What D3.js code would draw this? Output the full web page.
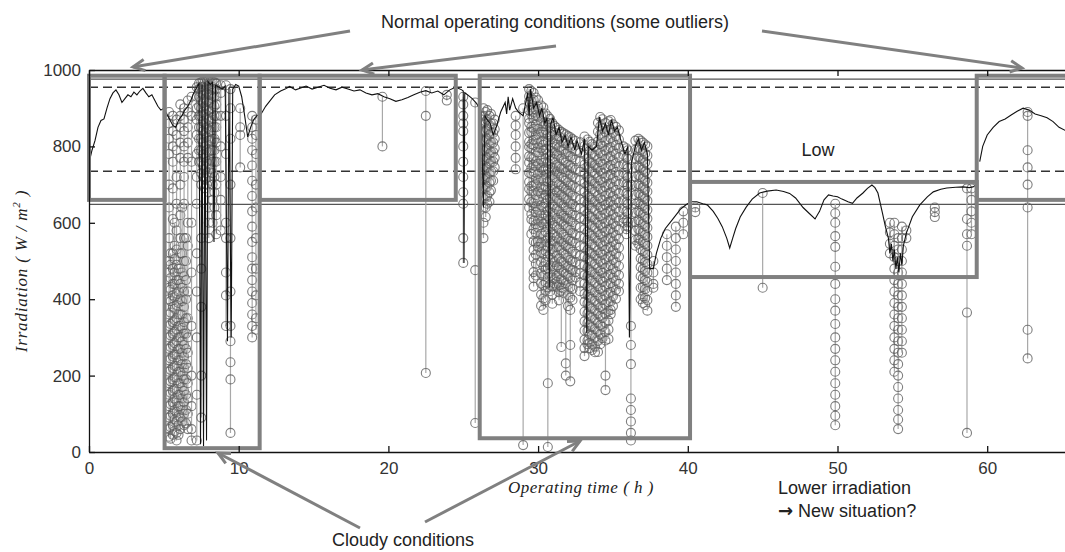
<!DOCTYPE html>
<html>
<head>
<meta charset="utf-8">
<script src="https://cdn.jsdelivr.net/npm/d3@7"></script>
<style>
  body { margin: 0; background: #fff; }
  svg { display: block; }
  .tick text { font-family: "Liberation Sans", Arial, sans-serif; font-size: 17px; fill: #333; }
  .ann { font-family: "Liberation Sans", Arial, sans-serif; font-size: 18px; fill: #222; }
  .axlab { font-family: "Liberation Serif", "Times New Roman", serif; font-style: italic; font-size: 17px; fill: #222; }
</style>
</head>
<body>
<div id="chart"></div>
<script>
// ---- data (hours, W/m2) ----
var xTicks = [0, 10, 20, 30, 40, 50, 60];
var yTicks = [0, 200, 400, 600, 800, 1000];

// measured irradiation trace [hour, value]
var trace = [
  [0.05,765],[0.2,790],[0.4,815],[0.6,850],[0.8,868],[1.0,872],[1.2,900],[1.4,925],[1.6,940],[1.8,948],
  [2.0,935],[2.2,915],[2.4,925],[2.6,935],[2.8,930],[3.0,942],[3.2,935],[3.4,945],[3.6,952],[3.8,940],
  [4.0,930],[4.2,935],[4.4,920],[4.6,905],[4.8,895],[5.0,900],
  [5.2,885],[5.4,870],[5.6,855],[5.8,850],[6.0,870],[6.2,880],[6.4,895],[6.6,905],[6.8,920],[7.0,940],
  [7.2,955],[7.35,965],[7.45,20],[7.55,962],[7.65,15],[7.75,968],[7.85,30],[7.95,970],[8.1,962],[8.25,968],
  [8.35,550],[8.45,960],[8.7,955],[8.9,950],[9.1,958],[9.25,290],[9.35,955],[9.5,300],[9.6,950],[9.8,962],
  [10.0,958],[10.2,930],[10.4,880],[10.6,825],[10.8,850],[11.0,870],[11.2,880],[11.5,885],
  [11.8,905],[12.1,920],[12.4,935],[12.8,945],[13.1,950],[13.4,957],[13.8,948],[14.1,952],[14.5,958],[14.9,950],
  [15.3,955],[15.7,960],[16.1,952],[16.5,948],[16.9,955],[17.3,950],[17.7,945],[18.1,948],[18.5,940],[18.9,935],
  [19.3,938],[19.7,930],[20.1,925],[20.5,918],[20.9,922],[21.3,928],[21.7,935],[22.1,942],[22.5,946],[22.9,940],
  [23.3,945],[23.7,935],[24.1,948],[24.5,955],[24.9,948],[25.0,945],[25.05,495],[25.1,940],[25.3,935],[25.6,925],
  [25.9,912],[26.0,905],[26.2,890],[26.35,640],[26.45,880],[26.6,870],[26.8,860],[27.0,830],[27.2,850],[27.5,890],
  [27.8,915],[27.9,885],[28.0,930],[28.1,895],[28.3,925],[28.5,900],[28.7,890],[29.0,880],[29.3,940],[29.4,880],
  [29.5,950],[29.7,900],[29.9,915],[30.1,880],[30.25,900],[30.45,860],[30.6,875],[30.75,430],[30.85,860],[31.0,875],
  [31.2,830],[31.4,850],[31.6,810],[31.8,830],[32.0,800],[32.2,825],[32.45,790],[32.6,815],[32.9,780],[33.1,820],
  [33.25,311],[33.35,800],[33.6,790],[33.9,800],[34.1,877],[34.3,840],[34.5,860],[34.7,830],[34.9,870],[35.1,840],
  [35.3,850],[35.5,820],[35.8,780],[36.0,800],[36.1,300],[36.25,760],[36.5,800],[36.7,820],[36.9,790],[37.1,810],
  [37.3,780],[37.45,480],[37.7,480],[37.9,520],[38.2,560],[38.5,585],[38.8,600],[39.1,615],[39.5,635],[39.9,648],
  [40.2,655],[40.6,655],[41.0,650],[41.3,647],[41.7,630],[42.0,612],[42.3,590],[42.6,560],[42.8,534],[43.0,560],
  [43.2,585],[43.5,615],[43.9,641],[44.3,662],[44.8,678],[45.3,683],[45.9,686],[46.4,682],[46.8,677],[47.2,665],
  [47.7,640],[48.1,625],[48.5,610],[48.8,630],[49.1,660],[49.4,673],[49.7,670],[50.0,668],[50.3,662],[50.7,655],
  [51.0,651],[51.3,665],[51.7,678],[52.0,690],[52.3,699],[52.5,692],[52.7,678],[53.0,626],[53.2,590],[53.4,560],
  [53.5,520],[53.6,545],[53.7,500],[53.8,530],[53.9,480],[54.0,510],[54.1,470],[54.2,520],[54.3,490],[54.4,540],
  [54.6,573],[55.0,616],[55.5,647],[56.0,668],[56.4,681],[56.9,688],[57.3,691],[57.9,693],[58.4,694],[58.8,692],
  [59.05,694],[59.3,700],
  [59.5,760],[59.7,800],[60.0,830],[60.4,850],[60.8,865],[61.2,872],[61.6,882],[62.0,892],[62.4,900],[62.8,895],
  [63.2,885],[63.6,880],[64.0,875],[64.4,865],[64.8,850],[65.2,842],[65.6,838]
];

// outlier samples (grey circles), grouped by hour
var outliers = [
  [5.35, [890,860,820,780,700,640,560,500,470,430,400,360,330,300,270,240,210,180,150,120,90,60,40]],
  [5.45, [520,490,455,425,395,365,335,305,275,245,215,185,155,125,95,65,35]],
  [5.6,  [880,840,800,760,690,610,520,480,440,410,380,340,310,280,250,220,190,160,130,100,70,45]],
  [5.72, [600,540,505,470,440,405,375,345,315,285,255,225,195,165,140,110,85,55]],
  [5.85, [870,830,790,720,650,580,530,490,450,415,385,350,320,290,255,225,195,165,135,105,80,50,30]],
  [5.98, [480,450,420,390,360,330,300,270,240,210,180,150,120,95,70,45]],
  [6.1,  [910,880,850,810,770,700,620,560,520,480,440,400,360,330,300,270,240,210,180,150,120,90,60]],
  [6.22, [640,520,470,430,395,360,325,290,260,230,200,170,140,110,80]],
  [6.35, [900,870,840,800,760,720,650,560,500,460,420,380,340,310,280,250,220,190,160,130,100,70]],
  [6.48, [560,500,450,400,350,310,270,230,190,150,110,75]],
  [6.6,  [920,890,850,810,770,600,540,420,350,300,260,220,180,140,100,60]],
  [6.85, [930,880,760,600,470,330,200,120,60,30]],
  [7.2,  [955,930,900,870,830,780,720,650,520,420,300,150,30]],
  [7.35, [965,950,930,905,880,850,820,790,760]],
  [7.5,  [968,955,940,920,900,880,850,820,790,760,730,700,560,480,380,200,90]],
  [7.62, [970,955,935,915,890,865,840,810,780,750,720]],
  [7.75, [970,960,945,925,905,885,860,835,800,770,740,715,690]],
  [7.88, [972,958,940,920,900,875,850,825,790,760,730,700]],
  [8.0,  [972,960,950,935,915,895,870,845,815,785,755,720,680,640,600,560]],
  [8.12, [970,952,935,915,890,865,840,815,790,765,740,710]],
  [8.25, [970,955,940,925,900,875,850,820,790,760,730,700,660,600]],
  [8.38, [968,950,930,905,880,850,820,790,760,720,680,640]],
  [8.5,  [965,950,930,910,880,850,810,760,700,620,570]],
  [8.8,  [960,940,880,800,720,660,580]],
  [9.15, [960,880,780,600,560,470,410,330]],
  [9.45, [950,900,820,700,560,420,330,290,235,190,50]],
  [10.1, [900,850,830,745]],
  [10.9, [880,850,820,790,750,710,670,630,590,550,510,480,450,420,390,360,330,300]],
  [11.15,[870,830,780,700,640,560,480,410,350,320]],
  [19.6, [930,800]],
  [22.5, [945,880,207]],
  [23.9, [935,920]],
  [25.0, [930,910,880,860,840,800,760,720,680,650,560,495]],
  [25.8, [915,476,76]],
  [26.35,[900,880,860,840,815,790,765,740,715,690,665,640,600,560]],
  [26.5, [890,865,840,815,790,765,740,715,690,665,640,615]],
  [26.6, [895,870,845,820,795,770,745,720,695,670,650]],
  [26.75,[880,855,830,805,780,755,730,705,680,655]],
  [26.85,[885,860,835,810,785,760,735,710,685]],
  [27.0, [860,835,810,785,760,735,710]],
  [27.1, [870,845,820,795,770,745]],
  [28.5, [880,855,830,800,770,740]],
  [29.0, [900,18]],
  [29.4, [950,931,917,894,873,861,836,812,799,774,758,731,707,689,662,640]],
  [29.55,[945,918,902,884,851,838,806,795,771,743,728,696,682,654,623,609,571]],
  [29.7, [940,922,889,874,846,817,803,769,752,733,698,684,651,637,605,584,552,529,508,471,455,433]],
  [29.85,[928,897,881,857,829,818,786,761,748,716,701,672,643,628,596,574,548,517,493,462]],
  [30.0, [921,904,878,846,831,797,784,755,728,711,682,661,634,606,588,552,537]],
  [30.2, [907,881,866,838,812,795,763,744,716,693,677,646,619,602,571,548,523,497,468,441,412,383]],
  [30.35,[902,884,853,837,804,789,757,738,711,687,664,641,611,597,566,538,519,486,461,437,402,372]],
  [30.5, [886,859,843,812,793,768,741,726,694,673,651,621,604,577,553,526,497,478,444,422,397]],
  [30.65,[879,862,831,814,781,757,739,708,687,661,632,617,589,561,538,512,481,457,431,180,13]],
  [30.8, [872,848,827,801,776,762,731,712,683,664,637,608,591,562,546,517,489,468,438,421]],
  [30.95,[861,839,811,796,768,743,724,697,676,648,627,599,583,552,531,504,486,457,433,412,388]],
  [31.1, [853,836,808,783,766,737,718,688,671,642,623,594,568,551,523,497,478,452,441]],
  [31.25,[848,821,804,779,752,734,706,681,663,636,612,589,563,537,514,488,461,446,433]],
  [31.4, [843,826,797,776,748,729,701,684,657,631,608,583,557,538,507,483,466,437,418,397]],
  [31.55,[838,814,789,768,742,721,697,673,651,622,603,574,551,528,499,477,452,431,422,275]],
  [31.7, [834,809,792,763,741,717,692,669,646,618,597,569,547,521,496,471,449,428,417]],
  [31.85,[831,807,781,758,733,711,688,662,641,613,592,563,541,516,489,467,442,232,200]],
  [32.0, [827,803,785,752,737,706,684,659,633,611,587,558,536,509,486,461,438,411,382]],
  [32.15,[824,798,774,749,726,698,679,651,627,604,581,553,532,503,479,456,431,404,372,280,185]],
  [32.3, [819,796,771,743,722,697,671,649,621,602,573,551,524,498,476,449,427,398]],
  [32.5, [814,788,766,739,717,691,667,641,619,593,568,547,519,497,471,457]],
  [32.8, [811,783,762,734,712,686,661,638,613,588,564,539,514,491,468,443,421]],
  [33.1, [826,801,778,752,729,704,681,656,631,609,583,561,536,512,489,463,441,414,393,367,342,318,294,272,251]],
  [33.3, [818,794,768,747,719,698,671,652,624,603,577,556,529,507,483,461,434,412,389,363,338,317,292,282]],
  [33.45,[812,789,761,742,714,693,667,646,618,597,572,551,524,502,476,454,428,406,381,357,333,308,286,272]],
  [33.6, [806,781,757,734,709,688,661,639,614,592,566,544,519,498,471,449,423,401,376,352,327,306,281,267]],
  [33.8, [799,776,751,729,703,682,656,633,608,587,561,538,514,492,466,443,418,396,371,347,322,299,276,261]],
  [34.0, [862,839,813,791,766,743,718,696,671,648,623,601,576,553,528,506,481,459,434,411,386,363,338,316,291,262]],
  [34.15,[877,852,831,806,783,759,736,711,689,664,641,617,594,569,547,522,499,474,452,427,404,379,356,332,308,282]],
  [34.3, [871,847,823,801,776,753,729,706,682,659,634,612,587,564,539,517,492,469,446,422,398,376,351,328,298]],
  [34.5, [861,838,814,789,767,742,719,694,671,647,624,599,577,552,529,504,482,457,434,409,387,362,339,314,292,200,162]],
  [34.7, [866,843,818,796,771,748,724,701,676,654,629,606,582,559,534,511,487,464,439,417,392,369,344,321,296]],
  [34.85,[869,844,822,797,774,751,726,703,679,656,632,608,584,561,537,514,489,466,442,419,394,372,361]],
  [35.0, [858,836,811,788,763,741,716,693,669,646,621,598,574,551,527,503,479,456,432,408,382]],
  [35.2, [851,827,803,781,756,733,709,686,661,638,614,591,567,543,519,496,472,449,424,401]],
  [35.4, [842,818,796,771,748,724,701,677,653,629,606,582,558,535,511,487,463,440,421]],
  [35.7, [800,778,753,731,706,684,659,637,612,600]],
  [35.9, [795,771,748,724,701,677,653,630,606,583,570]],
  [36.0, [790,767,743,719,696,672,649,625,601,590]],
  [36.2, [700,600,330,280,230,140,110,80,50,30]],
  [36.5, [815,792,768,744,721,697,673,650,626,602,579,555,540]],
  [36.7, [820,796,773,749,725,701,678,654,631,607,583,559,545]],
  [36.85,[815,791,768,744,720,697,673,649,626,602,578,555,531,507,484,460,430,400]],
  [37.0, [810,787,763,739,716,692,668,645,621,597,574,550,526,503,479,455,432,408,390]],
  [37.15,[805,781,758,734,710,687,663,639,616,592,568,545,521,497,474,450,426,403,385]],
  [37.3, [800,776,753,729,705,682,658,634,611,587,563,540,516,492,469,445,421,398,370]],
  [37.7, [500,470,440,430]],
  [38.6, [570,540,510,480,450]],
  [39.2, [590,560,530,500,470,440,410,380]],
  [39.7, [630,600,570]],
  [40.5, [640,628]],
  [45.0, [678,430]],
  [49.85,[650,625,600,565,537,485,440,400,370,335,300,270,240,210,180,150,120,95,70]],
  [53.5, [600,575,545,520]],
  [53.8, [600,570,540,510,480,450,420,390,360,330,300,270,240,210]],
  [54.05,[560,530,500,470,440,410,380,350,320,290,260,230,200,170,140,110,85,60]],
  [54.3, [590,560,530,500,470,440,410,380,350,320,290,260]],
  [54.6, [580,560]],
  [56.5, [640,628,615]],
  [58.65,[690,610,570,540,365,50]],
  [58.95,[690,660,630,600,570]],
  [62.7, [890,880,790,745,700,640,320,245]]
];

// highlighted regions [t0, t1, vLow, vHigh]
var regions = [
  [0, 5.05, 660, 985],
  [5.05, 11.4, 10, 985],
  [11.4, 24.5, 660, 985],
  [26.1, 40.15, 36, 985],
  [40.15, 59.3, 458, 707],
  [59.3, 67, 660, 985]
];
var dashedLevels = [955, 735];
var thinLevels = [976, 648];

// ---- chart ----
var W = 1065, H = 552;
var svg = d3.select('#chart').append('svg')
    .attr('width', W)
    .attr('height', H)
    .style('background', '#fff');

var x = d3.scaleLinear().domain([0, 66]).range([89, 89 + 66 * 14.97]);
var y = d3.scaleLinear().domain([0, 1000]).range([452, 70]);

// reference levels
svg.selectAll('.dl').data(dashedLevels).enter().append('line')
    .attr('x1', x(0)).attr('x2', W)
    .attr('y1', y).attr('y2', y)
    .attr('stroke', '#333').attr('stroke-width', 1.6)
    .attr('stroke-dasharray', '9,5');
svg.selectAll('.tl').data(thinLevels).enter().append('line')
    .attr('x1', x(0)).attr('x2', W)
    .attr('y1', y).attr('y2', y)
    .attr('stroke', '#555').attr('stroke-width', 1.2);

// outlier columns
var cols = svg.append('g').selectAll('g').data(outliers).enter().append('g');
cols.append('line')
    .attr('x1', function (d) { return x(d[0]); })
    .attr('x2', function (d) { return x(d[0]); })
    .attr('y1', function (d) { return y(d3.max(d[1])); })
    .attr('y2', function (d) { return y(d3.min(d[1])); })
    .attr('stroke', '#a8a8a8').attr('stroke-width', 1.2);
cols.selectAll('circle')
    .data(function (d) { return d[1].map(function (v) { return [d[0], v]; }); })
    .enter().append('circle')
    .attr('cx', function (d) { return x(d[0]); })
    .attr('cy', function (d) { return y(d[1]); })
    .attr('r', 4.5)
    .attr('fill', 'none')
    .attr('stroke', '#5e5e5e')
    .attr('stroke-width', 1.1)
    .attr('opacity', 0.8);

// main trace, broken at the day change
var line = d3.line()
    .x(function (d) { return x(d[0]); })
    .y(function (d) { return y(d[1]); });
var day1 = trace.filter(function (d) { return d[0] <= 59.3; });
var day2 = trace.filter(function (d) { return d[0] > 59.3; });
[day1, day2].forEach(function (seg) {
    svg.append('path')
        .datum(seg)
        .attr('d', line)
        .attr('fill', 'none')
        .attr('stroke', '#111')
        .attr('stroke-width', 1.1);
});

// region boxes
svg.selectAll('.box').data(regions).enter().append('rect')
    .attr('x', function (d) { return x(d[0]); })
    .attr('y', function (d) { return y(d[3]); })
    .attr('width', function (d) { return x(d[1]) - x(d[0]); })
    .attr('height', function (d) { return y(d[2]) - y(d[3]); })
    .attr('fill', 'none')
    .attr('stroke', '#808080')
    .attr('stroke-width', 4);

// axes
var xAxis = d3.axisBottom(x).tickValues(xTicks).tickSizeInner(-6).tickSizeOuter(0).tickPadding(10);
var yAxis = d3.axisLeft(y).tickValues(yTicks).tickFormat(d3.format('d'))
    .tickSizeInner(-6).tickSizeOuter(0).tickPadding(8);
var topAxis = d3.axisTop(x).tickValues(xTicks).tickSizeInner(-6).tickSizeOuter(0).tickFormat('');

svg.append('g').attr('transform', 'translate(0,' + y(0) + ')').call(xAxis);
svg.append('g').attr('transform', 'translate(' + x(0) + ',0)').call(yAxis);
svg.append('g').attr('transform', 'translate(0,' + y(1000) + ')').call(topAxis);
svg.selectAll('.domain').attr('stroke', '#111').attr('stroke-width', 1.3);
svg.selectAll('.tick line').attr('stroke', '#111').attr('stroke-width', 1.3);

// axis labels
svg.append('text')
    .attr('class', 'axlab')
    .attr('x', 581).attr('y', 493)
    .attr('text-anchor', 'middle')
    .style('letter-spacing', '0.5px')
    .text('Operating time ( h )');

var yl = svg.append('text')
    .attr('class', 'axlab')
    .attr('transform', 'translate(27,271) rotate(-90)')
    .attr('text-anchor', 'middle')
    .style('letter-spacing', '0.8px');
yl.append('tspan').text('Irradiation ( W / m');
yl.append('tspan').attr('dy', -7).style('font-size', '11px').text('2');
yl.append('tspan').attr('dy', 7).text(' )');

// annotations
function arrow(x1, y1, x2, y2) {
    var a = Math.atan2(y2 - y1, x2 - x1), L = 13, s = 0.45;
    svg.append('line')
        .attr('x1', x1).attr('y1', y1).attr('x2', x2).attr('y2', y2)
        .attr('stroke', '#808080').attr('stroke-width', 3);
    svg.append('path')
        .attr('d', 'M' + (x2 - L * Math.cos(a - s)) + ',' + (y2 - L * Math.sin(a - s)) +
            'L' + x2 + ',' + y2 +
            'L' + (x2 - L * Math.cos(a + s)) + ',' + (y2 - L * Math.sin(a + s)))
        .attr('fill', 'none')
        .attr('stroke', '#808080').attr('stroke-width', 3);
}

svg.append('text').attr('class', 'ann')
    .attr('x', 555).attr('y', 28).attr('text-anchor', 'middle')
    .text('Normal operating conditions (some outliers)');
arrow(350, 31, 133, 67);
arrow(556, 46, 362, 70);
arrow(762, 31, 1022, 68);

svg.append('text').attr('class', 'ann')
    .attr('x', 818).attr('y', 156).attr('text-anchor', 'middle')
    .text('Low');

svg.append('text').attr('class', 'ann')
    .attr('x', 403).attr('y', 546).attr('text-anchor', 'middle')
    .text('Cloudy conditions');
arrow(360, 528, 218, 453);
arrow(425, 522, 580, 441);

svg.append('text').attr('class', 'ann')
    .attr('x', 778).attr('y', 494)
    .text('Lower irradiation');
var ns = svg.append('text').attr('class', 'ann')
    .attr('x', 778).attr('y', 517);
ns.append('tspan').style('font-family', '"DejaVu Sans", sans-serif').style('font-weight', 'bold').text('\u2192');
ns.append('tspan').text(' New situation?');
</script>
</body>
</html>
